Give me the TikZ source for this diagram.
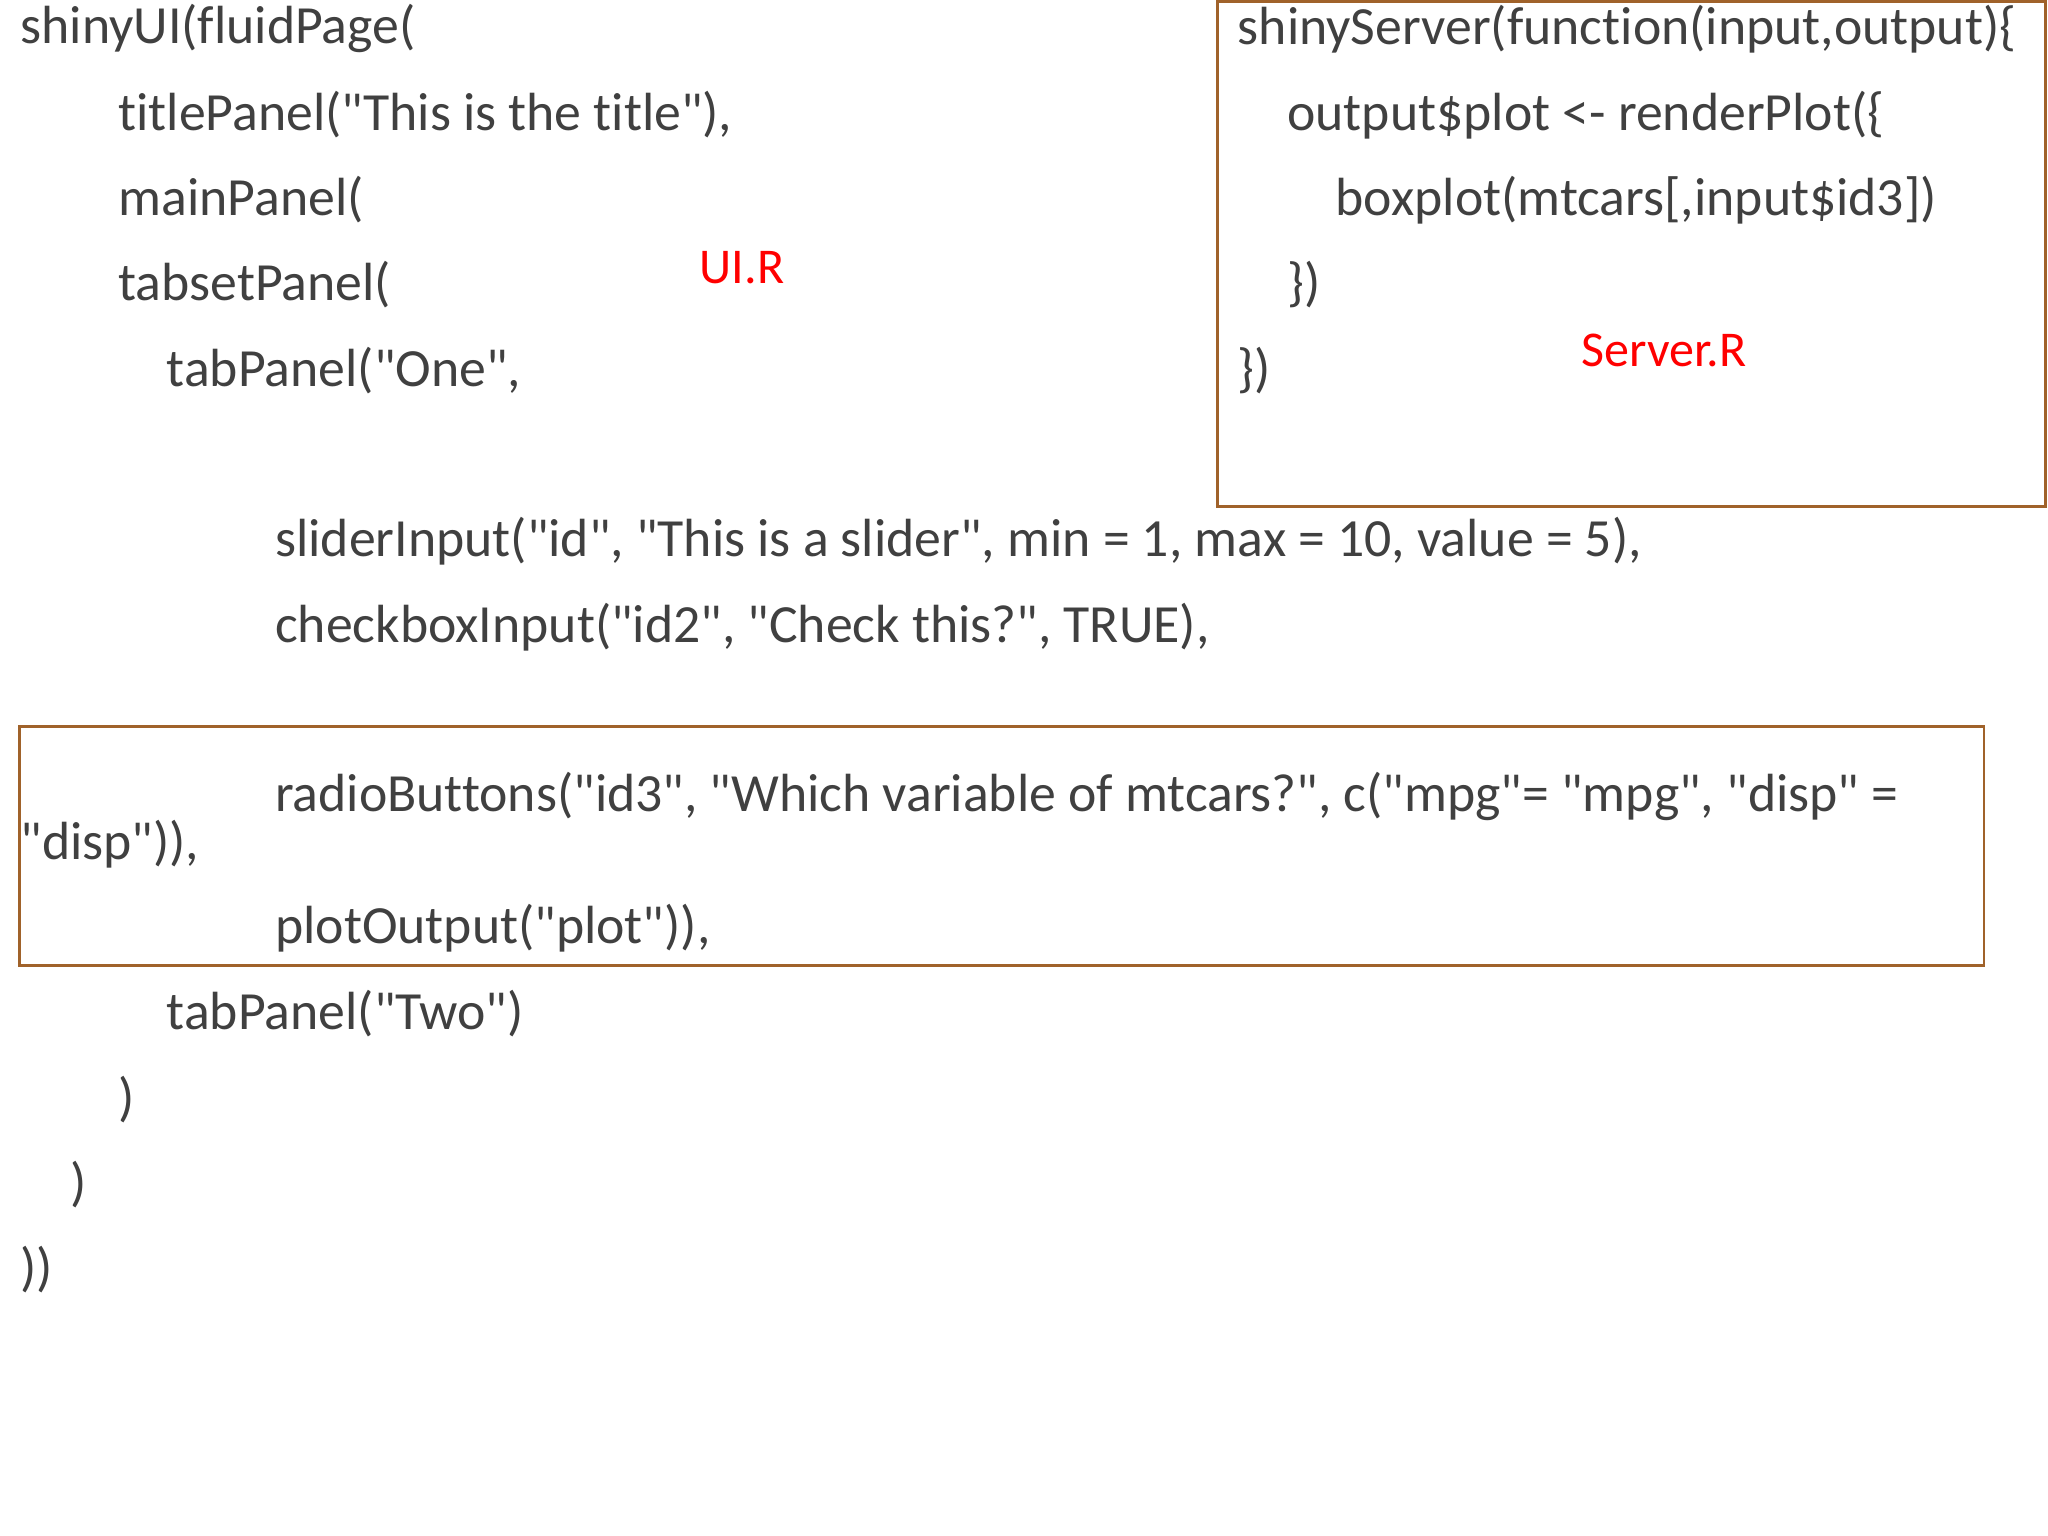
\documentclass[tikz,border=0pt]{standalone}
\usepackage{fontspec}
\setmainfont{Carlito}[Ligatures={TeXOff,NoCommon}]
\definecolor{code}{HTML}{404040}
\definecolor{boxc}{HTML}{A0622A}
\begin{document}
\begin{tikzpicture}[x=0.01cm,y=-0.01cm,
  c/.style={anchor=west,inner sep=0pt,text=code,font=\fontsize{11.7pt}{13pt}\selectfont},
  lab/.style={anchor=west,inner sep=0pt,text=red,font=\fontsize{10.9pt}{13pt}\selectfont},
  frame/.style={draw=boxc,line width=0.6pt}]
\useasboundingbox (0,0) rectangle (1568,1176);
\draw[frame] (932,1) rectangle (1566,388);
\draw[frame] (15,556) rectangle (1519,739);
\node[c] (l1) at (15,22) {shinyUI(fluidPage(};
\node[c] (l2) at (90,88) {titlePanel("This is the title"),};
\node[c] (l3) at (90,153) {mainPanel(};
\node[c] (l4) at (90,218) {tabsetPanel(};
\node[c] (l5) at (127,284) {tabPanel("One",};
\node[c] (l6) at (210,414) {sliderInput("id", "This is a slider", min = 1, max = 10, value = 5),};
\node[c] (l7) at (210,480) {checkboxInput("id2", "Check this?", TRUE),};
\node[c] (l8) at (210,610) {radioButtons("id3", "Which variable of mtcars?", c("mpg"= "mpg", "disp" =};
\node[c] (l9) at (15,646) {"disp")),};
\node[c] (l10) at (210,711) {plotOutput("plot")),};
\node[c] (l11) at (127,776) {tabPanel("Two")};
\node[c] (l12) at (90,842) {)};
\node[c] (l13) at (53,907) {)};
\node[c] (l14) at (15,972) {))};
\node[lab] (ui) at (535,205) {UI.R};
\node[c] (s1) at (947,22) {shinyServer(function(input,output)\{};
\node[c] (s2) at (985,88) {output\$plot <- renderPlot(\{};
\node[c] (s3) at (1022,153) {boxplot(mtcars[,input\$id3])};
\node[c] (s4) at (985,218) {\})};
\node[c] (s5) at (947,284) {\})};
\node[lab] (sr) at (1210,268) {Server.R};
\end{tikzpicture}
\end{document}
